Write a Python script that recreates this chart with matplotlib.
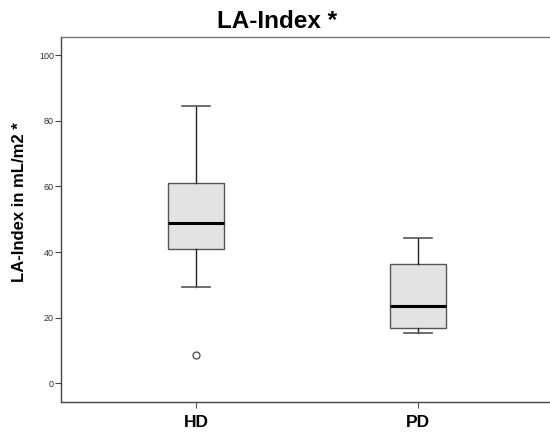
import matplotlib
matplotlib.use("Agg")
import matplotlib.pyplot as plt

plt.rcParams["font.family"] = ["Liberation Sans", "DejaVu Sans"]

# Data
groups = ["HD", "PD"]
whisker_low = [29.4, 15.4]
q1 = [41.0, 17.0]
median = [49.0, 23.6]
q3 = [61.1, 36.5]
whisker_high = [84.5, 44.3]
outliers = [[8.8], []]
yticks = [0, 20, 40, 60, 80, 100]

W, H = 550, 433
fig = plt.figure(figsize=(W / 100, H / 100), dpi=100)
fig.patch.set_facecolor("white")
ax = fig.add_axes([61 / W, (H - 401.5) / H, 492 / W, 364.5 / H])

stats = []
for i, g in enumerate(groups):
    stats.append(dict(label=g, whislo=whisker_low[i], q1=q1[i], med=median[i],
                      q3=q3[i], whishi=whisker_high[i], fliers=outliers[i]))

ax.bxp(stats, positions=[1, 2], widths=0.252, patch_artist=True,
       boxprops=dict(facecolor="#e3e3e3", edgecolor="#555555", linewidth=1.0),
       medianprops=dict(color="black", linewidth=2.2),
       whiskerprops=dict(color="#222222", linewidth=1.0),
       capprops=dict(color="#555555", linewidth=1.2),
       flierprops=dict(marker="o", markerfacecolor="white", markeredgecolor="#444444",
                       markersize=5, markeredgewidth=0.9))

ax.set_xlim(0.392, 2.608)
ax.set_ylim(-5.5, 105.5)
ax.set_yticks(yticks)
ax.set_yticklabels([str(t) for t in yticks], fontsize=6.5, color="#333333")
ax.set_xticks([1, 2])
ax.set_xticklabels(groups, fontsize=12.5, fontweight="bold")
ax.tick_params(axis="y", direction="out", length=4, width=0.8, color="#444444", pad=1)
ax.tick_params(axis="x", direction="out", length=4, width=0.8, color="#555555", pad=6)

for side in ["left", "bottom"]:
    ax.spines[side].set_color("#444444")
    ax.spines[side].set_linewidth(1.0)
ax.spines["top"].set_color("#777777")
ax.spines["top"].set_linewidth(1.0)
ax.spines["right"].set_visible(False)

fig.text(277 / W, 1 - 21 / H, "LA-Index *", ha="center", va="center",
         fontsize=17.5, fontweight="bold")
fig.text(20 / W, 1 - 202 / H, "LA-Index in mL/m2 *", ha="center", va="center",
         rotation=90, fontsize=12, fontweight="bold")

fig.savefig("out.png", dpi=100, facecolor="white")
